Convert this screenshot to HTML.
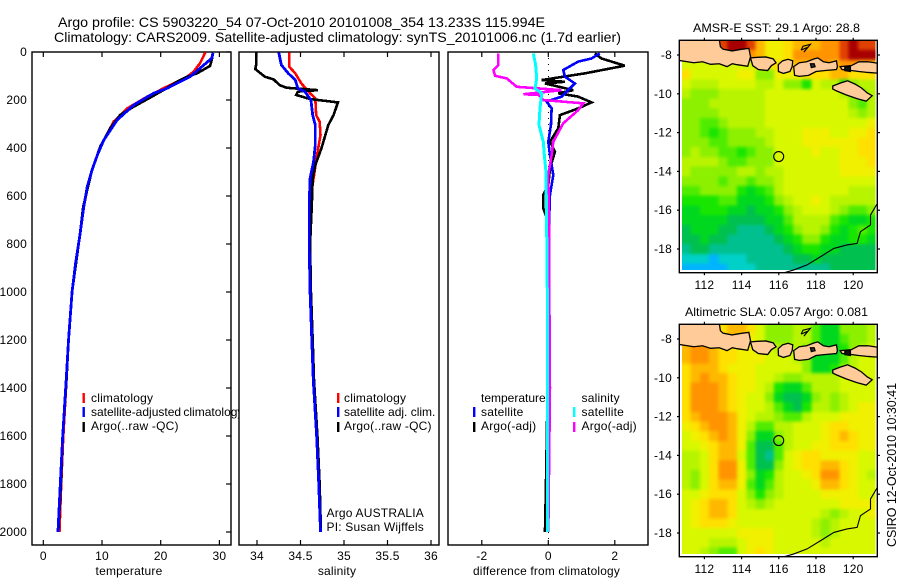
<!DOCTYPE html>
<html>
<head>
<meta charset="utf-8">
<title>Argo profile 5903220_54</title>
<style>
html,body{margin:0;padding:0;background:#fff;width:900px;height:580px;overflow:hidden}
svg{display:block}
text{font-family:"Liberation Sans",sans-serif;font-size:12px;letter-spacing:.2px;fill:#000}
.frame{fill:#fff;stroke:#000;stroke-width:1.4}
.noFill{fill:none;stroke:#000;stroke-width:1.4}
.series{fill:none;stroke-width:2.4;stroke-linejoin:miter;shape-rendering:crispEdges}
</style>
</head>
<body>
<svg id="chart" width="900" height="580" viewBox="0 0 900 580" xmlns="http://www.w3.org/2000/svg">
<defs>
<clipPath id="clipTemp"><rect x="32" y="52" width="199" height="493"/></clipPath>
<clipPath id="clipSal"><rect x="239" y="52" width="200" height="493"/></clipPath>
<clipPath id="clipDiff"><rect x="448" y="52" width="200" height="493"/></clipPath>
<clipPath id="clipCells1"><rect x="682" y="40" width="193.5" height="230"/></clipPath>
<clipPath id="clipCells2"><rect x="682" y="324" width="193.5" height="230"/></clipPath>
<clipPath id="clipMap1"><rect x="679" y="40" width="198" height="233"/></clipPath>
<clipPath id="clipMap2"><rect x="679" y="324" width="198" height="233"/></clipPath>
<filter id="soften" x="-5%" y="-5%" width="110%" height="110%" color-interpolation-filters="sRGB">
<feGaussianBlur stdDeviation="1.6"/>
<feComponentTransfer><feFuncA type="linear" slope="5"/></feComponentTransfer>
</filter>
</defs>

<text x="58" y="27" style="font-size:14px;letter-spacing:0" textLength="487" lengthAdjust="spacingAndGlyphs">Argo profile: CS 5903220_54 07-Oct-2010 20101008_354 13.233S 115.994E</text>
<text x="54" y="42" style="font-size:14px;letter-spacing:0" textLength="567" lengthAdjust="spacingAndGlyphs">Climatology: CARS2009. Satellite-adjusted climatology: synTS_20101006.nc (1.7d earlier)</text>

<!-- temperature panel -->
<g>
<rect class="frame" x="32" y="52" width="199" height="493"/>
<g id="tempSeries" clip-path="url(#clipTemp)"></g>
<g id="tempTicks"></g>
<g>
<rect x="82.5" y="393" width="2.4" height="10" fill="#f00"/>
<rect x="82.5" y="407" width="2.4" height="10" fill="#00f"/>
<rect x="82.5" y="422" width="2.4" height="10" fill="#000"/>
<text x="91" y="402">climatology</text>
<text x="91" y="416" style="letter-spacing:0;word-spacing:-1px">satellite-adjusted climatology</text>
<text x="91" y="430">Argo(..raw -QC)</text>
</g>
<text x="129" y="575" text-anchor="middle">temperature</text>
</g>

<!-- salinity panel -->
<g>
<rect class="frame" x="239" y="52" width="200" height="493"/>
<g id="salSeries" clip-path="url(#clipSal)"></g>
<g id="salTicks"></g>
<g>
<rect x="337" y="393" width="2.4" height="10" fill="#f00"/>
<rect x="337" y="407" width="2.4" height="10" fill="#00f"/>
<rect x="337" y="422" width="2.4" height="10" fill="#000"/>
<text x="344" y="402">climatology</text>
<text x="344" y="416" style="letter-spacing:0">satellite adj. clim.</text>
<text x="344" y="430">Argo(..raw -QC)</text>
<text x="326.5" y="517">Argo AUSTRALIA</text>
<text x="326.5" y="531">PI: Susan Wijffels</text>
</g>
<text x="337" y="575" text-anchor="middle">salinity</text>
</g>

<!-- difference panel -->
<g>
<rect class="frame" x="448" y="52" width="200" height="493"/>
<g id="diffSeries" clip-path="url(#clipDiff)"></g>
<g id="diffTicks"></g>
<g>
<text x="481" y="402" style="letter-spacing:0">temperature</text>
<text x="581.5" y="402">salinity</text>
<rect x="473" y="407" width="2.4" height="10" fill="#00f"/>
<rect x="473" y="422" width="2.4" height="10" fill="#000"/>
<rect x="573" y="407" width="2.4" height="10" fill="#0ff"/>
<rect x="573" y="422" width="2.4" height="10" fill="#f0f"/>
<text x="481" y="416">satellite</text>
<text x="481" y="430">Argo(-adj)</text>
<text x="581.5" y="416">satellite</text>
<text x="581.5" y="430">Argo(-adj)</text>
</g>
<text x="546.5" y="575" text-anchor="middle" textLength="147" lengthAdjust="spacingAndGlyphs">difference from climatology</text>
</g>

<!-- SST map -->
<g>
<text x="693" y="32" textLength="167" lengthAdjust="spacingAndGlyphs" style="letter-spacing:0">AMSR-E SST: 29.1  Argo: 28.8</text>
<g clip-path="url(#clipCells1)"><g id="sstCells" filter="url(#soften)"></g></g>
<g id="sstLand" clip-path="url(#clipMap1)"></g>
<rect class="noFill" x="679.3" y="40.3" width="198" height="232.4"/>
<g id="sstTicks"></g>
</g>

<!-- SLA map -->
<g>
<text x="685" y="316" textLength="183" lengthAdjust="spacingAndGlyphs" style="letter-spacing:0">Altimetric SLA: 0.057  Argo: 0.081</text>
<g clip-path="url(#clipCells2)"><g id="slaCells" filter="url(#soften)"></g></g>
<g id="slaLand" clip-path="url(#clipMap2)"></g>
<rect class="noFill" x="679.3" y="324.3" width="198" height="232.4"/>
<g id="slaTicks"></g>
</g>

<text transform="translate(896,547) rotate(-90)" textLength="164" lengthAdjust="spacingAndGlyphs" style="font-size:13px;letter-spacing:0">CSIRO 12-Oct-2010 10:30:41</text>
</svg>

<script>
// ---- axis tick labels ----
const depthTickLabels = [0,200,400,600,800,1000,1200,1400,1600,1800,2000];
const tempTickLabels = [0,10,20,30];
const salTickLabels = [34,34.5,35,35.5,36];
const diffTickLabels = [-2,0,2];
const lonTickLabels = [112,114,116,118,120];
const latTickLabels = [-8,-10,-12,-14,-16,-18];

// ---- temperature profiles ----
const tempClimDepth = [2,47,82,103,151,186,235,290,367,430,492,560,644,769,880,1000,1200,1367,1603,1800,2000];
const tempClimValue = [27.6,26.7,25.6,24.5,20.5,17.7,14.3,12.0,10.3,9.2,8.3,7.6,6.9,6.2,5.5,4.9,4.3,3.95,3.4,3.05,2.75];
const tempSatDepth = [3,26,103,151,172,221,283,367,430,492,560,644,769,880,1000,1200,1367,1603,1800,2000];
const tempSatValue = [28.9,28.7,25.0,21.1,18.8,15.4,12.6,10.3,9.2,8.3,7.5,6.9,6.2,5.5,4.9,4.3,3.9,3.3,2.9,2.5];
const tempArgoDepth = [3,33,58,89,103,124,158,186,228,262,318,394,492,644,769,1000,1200,1367,1603,1800,2000];
const tempArgoValue = [28.9,28.7,28.4,26.2,24.5,22.8,20.5,18.5,15.4,13.1,11.4,9.7,8.3,6.8,6.2,4.9,4.3,3.95,3.3,3.0,2.55];

// ---- salinity profiles ----
const salClimDepth = [2,61,89,131,172,193,263,290,346,429,527,624,800,1000,1200,1367,1603,1800,2000];
const salClimValue = [34.37,34.37,34.44,34.51,34.61,34.67,34.68,34.72,34.73,34.69,34.65,34.61,34.605,34.615,34.635,34.65,34.69,34.715,34.735];
const salSatDepth = [2,54,89,117,152,165,200,263,304,388,457,527,638,800,1000,1200,1367,1603,1800,2000];
const salSatValue = [34.25,34.28,34.36,34.44,34.47,34.55,34.62,34.64,34.67,34.67,34.65,34.61,34.60,34.60,34.61,34.63,34.647,34.686,34.71,34.73];
const salArgoDepth = [2,54,71,103,114,138,149,159,165,179,196,210,263,304,402,471,527,638,800,1000,1200,1367,1603,1800,2000];
const salArgoValue = [33.99,33.99,33.98,34.09,34.19,34.26,34.34,34.70,34.47,34.45,34.61,34.93,34.88,34.82,34.74,34.67,34.64,34.63,34.61,34.62,34.64,34.655,34.695,34.72,34.735];

// ---- differences from climatology ----
const diffTempSatDepth = [6,27,40,75,103,131,186,207,235,304,374,429,513,596,721,1000,1400,2000];
const diffTempSatValue = [1.55,1.3,0.9,0.45,0.5,0.8,0.4,-0.05,0.1,0.08,0,0.05,0.15,0.05,0.02,0.02,0.03,0];
const diffTempArgoDepth = [6,27,57,89,117,124,131,159,172,186,210,235,263,318,374,415,485,554,596,652,707,1000,1400,1800,2000];
const diffTempArgoValue = [1.4,1.6,2.3,1.1,-0.2,0.5,-0.1,0.75,0.3,0.9,1.3,0.9,0.35,0.3,0.05,0.2,0.05,0,-0.15,-0.15,0,-0.03,-0.02,-0.07,-0.1];
const diffSalSatDepth = [6,54,110,152,172,235,304,374,429,499,721,1000,2000];
const diffSalSatValue = [-0.45,-0.38,-0.35,-0.4,-0.2,-0.25,-0.28,-0.15,-0.12,-0.07,-0.05,-0.03,-0.03];
const diffSalArgoDepth = [6,54,75,99,110,145,159,176,179,200,214,242,297,374,429,513,721,1000,1400,2000];
const diffSalArgoValue = [-1.5,-1.5,-1.65,-1.6,-1.25,-0.95,0.4,-0.75,-0.3,-0.15,1.05,0.9,0.45,0.15,0.1,0,0.02,0.03,0.05,0];
const zeroLineDepth = [0,2054];
const zeroLineValue = [0,0];

// ---- map grid coordinates ----
const gridLons = [111,111.5,112,112.5,113,113.5,114,114.5,115,115.5,116,116.5,117,117.5,118,118.5,119,119.5,120,120.5,121];
const gridLats = [-7.5,-8,-8.5,-9,-9.5,-10,-10.5,-11,-11.5,-12,-12.5,-13,-13.5,-14,-14.5,-15,-15.5,-16,-16.5,-17,-17.5,-18,-18.5,-19];
const floatLon = 115.994;
const floatLat = -13.233;

// ---- SST levels (colour-scale level per grid cell) ----
const sstLevels = [
[10,10,10,10,15,16,16,15,13,11,11,12,13,13,13,14,14,15,16,15,15],
[10,10,10,10,14,16,16,14,13,11,11,12,14,14,14,14,14,15,16,16,16],
[10,10,10,10,10,10,10,10,11,12,12,12,13,13,14,14,13,14,14,13,13],
[12,10,10,10,10,10,11,11,8,8,11,11,11,12,12,12,13,13,12,12,12],
[10,9,9,9,10,10,10,10,9,9,10,8,8,6,10,9,9,6,8,9,9],
[9,8,8,8,9,9,9,9,9,10,10,10,10,10,10,10,10,9,8,8,9],
[8,8,8,9,9,9,9,9,9,10,10,10,10,10,10,10,10,10,8,7,9],
[8,8,8,8,9,9,9,9,9,10,10,10,10,10,10,10,10,10,9,8,9],
[8,8,7,7,8,9,9,9,9,10,10,10,10,10,10,10,10,10,10,10,11],
[8,8,7,6,7,8,8,8,9,9,10,10,10,11,11,11,10,10,11,11,12],
[8,8,8,7,7,8,8,8,8,9,10,10,10,11,11,11,11,11,11,12,12],
[8,9,8,8,7,7,6,7,8,8,10,10,10,10,11,10,10,11,11,12,12],
[9,9,9,9,8,7,7,8,8,8,10,10,10,10,10,10,10,11,11,11,12],
[9,8,8,8,8,8,9,9,8,9,9,10,10,10,10,10,10,11,11,11,11],
[8,8,8,8,7,8,8,7,8,8,9,10,10,10,10,10,10,10,10,10,10],
[7,7,8,8,8,8,6,5,6,7,9,10,10,10,10,10,10,10,9,9,9],
[6,6,6,6,7,7,5,5,5,6,8,9,10,10,11,10,9,9,9,9,9],
[5,5,6,6,6,5,5,4,5,5,6,8,9,10,10,10,9,8,7,7,8],
[5,5,5,5,5,4,4,4,4,5,5,7,9,9,9,9,7,6,5,5,6],
[4,5,5,5,4,4,3,3,3,4,5,6,8,9,9,8,6,5,6,7,6],
[4,4,5,4,4,3,3,3,3,3,4,5,6,8,8,6,5,5,6,6,5],
[3,4,4,3,3,3,3,3,3,3,3,4,5,6,6,5,5,4,4,4,4],
[2,2,2,1,2,2,2,3,3,3,3,3,4,4,5,4,4,4,4,4,4],
[1,1,1,1,1,2,2,2,3,3,3,3,3,3,3,3,4,4,4,4,4]
];

// ---- SLA levels (colour-scale level per grid cell) ----
const slaLevels = [
[10,10,10,10,12,13,13,12,10,8,8,8,9,9,7,5,5,8,8,8,9],
[10,10,10,10,12,13,12,11,10,8,8,8,9,9,7,5,5,7,8,8,9],
[13,14,14,13,12,12,11,11,10,10,9,9,9,8,6,5,5,6,8,9,10],
[13,14,14,13,12,12,11,11,11,10,10,10,9,8,5,5,5,7,9,10,10],
[12,13,13,13,12,11,11,11,10,10,10,10,10,8,5,5,6,8,9,10,10],
[12,13,14,13,13,12,11,11,10,10,9,8,8,9,9,9,9,10,10,10,10],
[12,14,14,14,13,12,11,11,10,9,6,5,5,7,9,9,9,10,10,10,10],
[12,14,14,14,13,12,11,10,10,8,5,4,4,5,8,9,8,9,10,10,10],
[12,14,14,14,13,12,11,10,10,9,7,5,4,6,9,9,8,9,10,11,11],
[12,13,14,14,14,13,11,10,9,9,8,7,7,9,10,10,10,11,11,11,11],
[11,12,13,14,14,13,11,9,7,7,9,9,10,10,10,11,12,12,11,11,11],
[10,11,12,13,14,13,11,8,5,5,8,9,10,10,10,11,12,13,12,11,11],
[10,10,11,12,13,13,11,7,4,4,7,9,10,10,11,11,12,12,12,11,11],
[9,9,10,12,13,13,10,7,4,3,7,10,11,12,12,11,11,11,11,10,10],
[9,9,10,12,14,14,11,7,4,4,8,10,11,12,12,13,13,12,11,10,10],
[9,8,10,12,14,14,11,8,5,6,9,10,10,11,12,14,14,12,11,10,9],
[9,8,10,12,13,13,11,7,5,7,9,10,10,10,11,13,13,12,11,10,10],
[10,10,11,12,12,12,10,8,6,8,9,10,10,10,10,11,11,11,11,10,10],
[10,11,12,13,13,12,10,9,8,9,10,10,10,10,10,10,10,11,11,11,11],
[10,11,12,13,13,12,10,10,10,10,10,10,10,10,10,9,8,9,10,10,11],
[10,11,12,12,12,11,10,10,10,10,10,10,10,10,9,8,9,10,10,10,10],
[10,10,10,10,10,10,11,11,11,11,10,10,10,10,9,8,9,10,10,10,10],
[10,10,10,9,9,9,10,11,11,11,10,10,10,10,10,9,10,10,10,10,10],
[10,10,9,8,7,7,10,11,12,11,10,10,10,10,10,10,10,10,10,10,10]
];
const colourScale = ['#0078ff','#00b4ff','#00d0c8','#00c090','#00c050','#00d820','#19e600','#50ec00','#8cf000','#b8f400','#d8f800','#f0f000','#ffe000','#ffb800','#ff9400','#e04000','#a80000'];

// ---- coastlines (lon / lat) ----
const javaLon = [110.5,112.77,112.86,113.0,113.49,113.9,114.39,114.48,114.33,113.76,113.5,113.22,112.8,112.33,111.9,111.43,110.5];
const javaLat = [-7.0,-7.0,-7.57,-7.7,-7.79,-7.72,-7.66,-8.09,-8.58,-8.5,-8.45,-8.6,-8.45,-8.48,-8.35,-8.40,-8.26];
const baliLon = [114.48,114.85,115.3,115.7,115.85,115.6,115.4,114.9,114.6];
const baliLat = [-8.15,-8.12,-8.1,-8.2,-8.4,-8.55,-8.8,-8.75,-8.55];
const lombokLon = [115.97,116.2,116.5,116.75,116.72,116.6,116.25,115.98];
const lombokLat = [-8.5,-8.3,-8.22,-8.3,-8.6,-8.85,-8.95,-8.85];
const sumbawaLon = [116.8,117.1,117.5,117.9,118.1,118.4,118.7,119.1,119.15,119.1,118.5,118.0,117.6,117.1,116.85];
const sumbawaLat = [-8.6,-8.4,-8.35,-8.2,-8.15,-8.35,-8.4,-8.3,-8.6,-8.75,-8.8,-8.85,-9.05,-9.1,-9.05];
const floresLon = [119.3,119.9,120.3,120.8,121.5,121.5,120.8,120.3,119.9,119.4];
const floresLat = [-8.6,-8.55,-8.35,-8.35,-8.45,-8.95,-8.9,-8.85,-8.8,-8.75];
const sumbaLon = [118.9,119.3,119.7,120.1,120.45,120.75,121.02,120.7,120.2,119.6,119.1,118.9];
const sumbaLat = [-9.6,-9.45,-9.33,-9.5,-9.7,-9.95,-10.1,-10.38,-10.25,-10.05,-9.85,-9.75];
const australiaLon = [116.3,116.81,117.52,118.24,118.96,119.67,120.21,120.39,120.93,120.93,121.3];
const australiaLat = [-19.22,-19.08,-18.82,-18.4,-17.97,-17.79,-17.71,-17.11,-16.76,-16.25,-15.65];
const isletALon = [117.7,117.9,117.95,117.75];
const isletALat = [-8.45,-8.45,-8.6,-8.65];
const isletBLon = [119.55,119.85,119.85,119.55];
const isletBLat = [-8.6,-8.6,-8.85,-8.8];
const isletCLon = [117.2,117.55,117.35,117.7,117.3,117.2];
const isletCLat = [-7.75,-7.6,-7.85,-7.45,-7.55,-7.75];

// ---- axis functions ----
function tempX(v){ return 43.3 + v * 5.87; }
function salX(v){ return 257 + (v - 34) * 87; }
function diffX(v){ return 548.3 + v * 33.25; }
function depthY(d){ return 52 + d * 0.24; }
function lonX(lon){ return 778.8 + (lon - 116) * 18.6; }
function latY(lat, panelOffset){ return 55 + panelOffset + (-8 - lat) * 19.4; }

const NS = 'http://www.w3.org/2000/svg';
function make(tag, parent){
  const el = document.createElementNS(NS, tag);
  parent.appendChild(el);
  return el;
}
function g(id){ return document.getElementById(id); }

function drawTickLine(parent, x1, y1, x2, y2){
  const l = make('line', parent);
  
  
  l.setAttribute('x1', x1);
  l.setAttribute('y1', y1);
  l.setAttribute('x2', x2);
  l.setAttribute('y2', y2);
  l.setAttribute('stroke', '#000');
  l.setAttribute('stroke-width', '1.2');
}
function drawTickText(parent, x, y, label, anchor){
  const t = make('text', parent);
  
  
  t.setAttribute('x', x);
  t.setAttribute('y', y);
  t.setAttribute('text-anchor', anchor);
  t.textContent = label;
}
function drawSeries(parent, name, colour, xs, ds, scaleX, width, dash){
  const p = make('polyline', parent);
  
  
  p.setAttribute('class', 'series');
  p.setAttribute('stroke', colour);
  if (width) p.style.strokeWidth = width;
  if (dash) p.setAttribute('stroke-dasharray', dash);
  p.setAttribute('points', xs.map(function(v, i){ return scaleX(v).toFixed(2) + ',' + depthY(ds[i]).toFixed(2); }).join(' '));
}
function drawProfileAxes(parent, labels, scaleX, left, right, withDepth){
  labels.forEach(function(v){
    const x = scaleX(v);
    drawTickLine(parent, x, 52, x, 57);
    drawTickLine(parent, x, 545, x, 540);
    drawTickText(parent, x, 560, String(v), 'middle');
  });
  if (withDepth) depthTickLabels.forEach(function(d){
    const y = depthY(d);
    drawTickLine(parent, right, y, right - 5, y);
    drawTickText(parent, 27, y + 4, String(d), 'end');
  });
}

// profile panels
drawProfileAxes(g('tempTicks'), tempTickLabels, tempX, 32, 231, true);
drawProfileAxes(g('salTicks'), salTickLabels, salX, 239, 439, false);
drawProfileAxes(g('diffTicks'), diffTickLabels, diffX, 448, 648, false);

drawSeries(g('tempSeries'), 'temperature-climatology-line', '#f00', tempClimValue, tempClimDepth, tempX, 2.6);
drawSeries(g('tempSeries'), 'temperature-argo-line', '#000', tempArgoValue, tempArgoDepth, tempX, 2.6);
drawSeries(g('tempSeries'), 'temperature-satellite-line', '#00f', tempSatValue, tempSatDepth, tempX, 2.8);

drawSeries(g('salSeries'), 'salinity-climatology-line', '#f00', salClimValue, salClimDepth, salX, 2.6);
drawSeries(g('salSeries'), 'salinity-argo-line', '#000', salArgoValue, salArgoDepth, salX, 2.6);
drawSeries(g('salSeries'), 'salinity-satellite-line', '#00f', salSatValue, salSatDepth, salX, 2.8);

drawSeries(g('diffSeries'), 'zero-reference-line', '#000', zeroLineValue, zeroLineDepth, diffX, 1, '1 5');
drawSeries(g('diffSeries'), 'diff-temperature-argo-line', '#000', diffTempArgoValue, diffTempArgoDepth, diffX, 2.6);
drawSeries(g('diffSeries'), 'diff-temperature-satellite-line', '#00f', diffTempSatValue, diffTempSatDepth, diffX, 2.6);
drawSeries(g('diffSeries'), 'diff-salinity-argo-line', '#f0f', diffSalArgoValue, diffSalArgoDepth, diffX, 2.6);
drawSeries(g('diffSeries'), 'diff-salinity-satellite-line', '#0ff', diffSalSatValue, diffSalSatDepth, diffX, 3);

// maps
function drawCells(parent, levels, panelOffset){
  levels.forEach(function(row, r){
    row.forEach(function(level, c){
      const rect = make('rect', parent);
      
      
      const x0 = lonX(gridLons[c] - 0.25);
      const x1 = lonX(gridLons[c] + 0.25);
      const y0 = latY(gridLats[r] + 0.25, panelOffset);
      const y1 = latY(gridLats[r] - 0.25, panelOffset);
      rect.setAttribute('x', x0.toFixed(2));
      rect.setAttribute('y', y0.toFixed(2));
      rect.setAttribute('width', (x1 - x0 + 0.6).toFixed(2));
      rect.setAttribute('height', (y1 - y0 + 0.6).toFixed(2));
      const idx = Math.max(0, Math.min(colourScale.length - 1, Math.round(level)));
      rect.setAttribute('fill', colourScale[idx]);
      rect.setAttribute('shape-rendering', 'crispEdges');
    });
  });
}
function drawLand(parent, name, lons, lats, panelOffset, fill){
  const p = make('polygon', parent);
  
  
  p.setAttribute('points', lons.map(function(lon, i){ return lonX(lon).toFixed(2) + ',' + latY(lats[i], panelOffset).toFixed(2); }).join(' '));
  p.setAttribute('fill', fill);
  p.setAttribute('stroke', '#000');
  p.setAttribute('stroke-width', '1.3');
}
function drawCoast(parent, name, lons, lats, panelOffset){
  const p = make('polyline', parent);
  
  
  p.setAttribute('points', lons.map(function(lon, i){ return lonX(lon).toFixed(2) + ',' + latY(lats[i], panelOffset).toFixed(2); }).join(' '));
  p.setAttribute('fill', 'none');
  p.setAttribute('stroke', '#000');
  p.setAttribute('stroke-width', '1.1');
}
function drawMapOverlay(parent, panelOffset){
  drawLand(parent, 'java-island', javaLon, javaLat, panelOffset, '#ffcc99');
  drawLand(parent, 'bali-island', baliLon, baliLat, panelOffset, '#ffcc99');
  drawLand(parent, 'lombok-island', lombokLon, lombokLat, panelOffset, '#ffcc99');
  drawLand(parent, 'sumbawa-island', sumbawaLon, sumbawaLat, panelOffset, '#ffcc99');
  drawLand(parent, 'flores-island', floresLon, floresLat, panelOffset, '#ffcc99');
  drawLand(parent, 'sumba-island', sumbaLon, sumbaLat, panelOffset, '#ffcc99');
  drawLand(parent, 'islet-a', isletALon, isletALat, panelOffset, '#333');
  drawLand(parent, 'islet-b', isletBLon, isletBLat, panelOffset, '#111');
  drawCoast(parent, 'islet-c-coast', isletCLon, isletCLat, panelOffset);
  drawCoast(parent, 'australia-coast', australiaLon, australiaLat, panelOffset);
  const c = make('circle', parent);
  
  
  c.setAttribute('cx', lonX(floatLon).toFixed(2));
  c.setAttribute('cy', latY(floatLat, panelOffset).toFixed(2));
  c.setAttribute('r', '5');
  c.setAttribute('fill', 'none');
  c.setAttribute('stroke', '#000');
  c.setAttribute('stroke-width', '1.1');
}
function drawMapAxes(parent, panelOffset){
  const top = 40.3 + panelOffset;
  const bottom = 272.7 + panelOffset;
  lonTickLabels.forEach(function(lon){
    const x = lonX(lon);
    drawTickLine(parent, x, top, x, top - 2.5);
    drawTickLine(parent, x, bottom, x, bottom + 2.5);
    drawTickText(parent, x, 289 + panelOffset, String(lon), 'middle');
  });
  latTickLabels.forEach(function(lat){
    const y = latY(lat, panelOffset);
    drawTickLine(parent, 679.3, y, 677, y);
    drawTickLine(parent, 877.3, y, 880, y);
    drawTickText(parent, 672, y + 4, String(lat), 'end');
  });
}
drawCells(g('sstCells'), sstLevels, 0);
drawCells(g('slaCells'), slaLevels, 284);
drawMapOverlay(g('sstLand'), 0);
drawMapOverlay(g('slaLand'), 284);
drawMapAxes(g('sstTicks'), 0);
drawMapAxes(g('slaTicks'), 284);
</script>
</body>
</html>
